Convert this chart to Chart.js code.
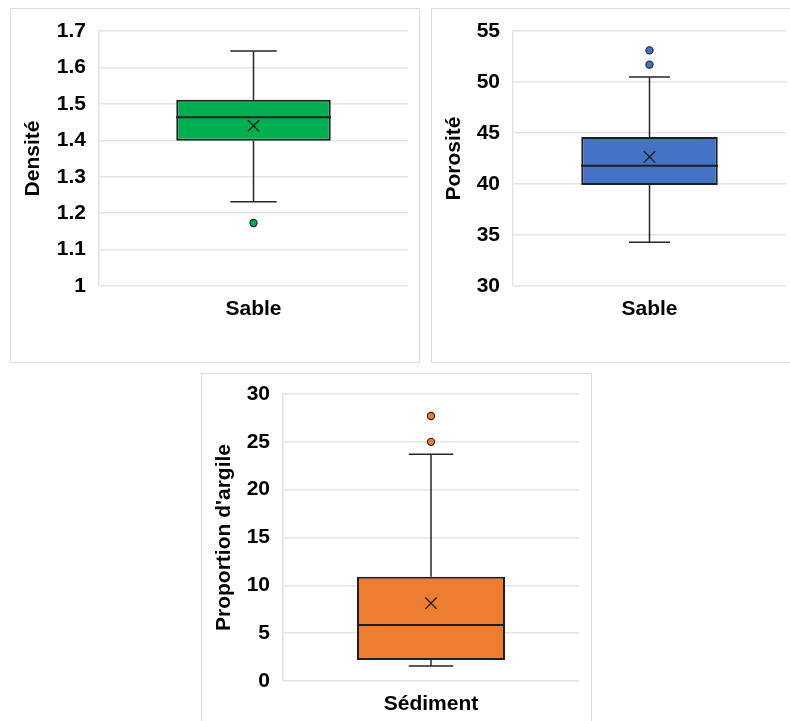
<!DOCTYPE html>
<html lang="fr">
<head>
<meta charset="utf-8">
<title>Boîtes à moustaches – Densité, Porosité, Proportion d'argile</title>
<script src="https://cdn.jsdelivr.net/npm/chart.js@4"></script>
<style>
  html, body { margin: 0; padding: 0; background: #ffffff; overflow: hidden; }
  body { width: 790px; height: 721px; position: relative; }
  .panel { position: absolute; border: 1px solid #dcdcdc; background: #fff; box-sizing: border-box; }
  .panel canvas { position: absolute; left: 0; top: 0; }
</style>
</head>
<body>
<div class="panel" id="p1" style="left:10px; top:8px; width:410px; height:355px;"><canvas id="c1" width="408" height="353"></canvas></div>
<div class="panel" id="p2" style="left:431px; top:8px; width:367px; height:355px;"><canvas id="c2" width="365" height="353"></canvas></div>
<div class="panel" id="p3" style="left:201px; top:373px; width:391px; height:360px;"><canvas id="c3" width="389" height="354"></canvas></div>

<script>
// Five-number summaries: [min whisker, Q1, median, Q3, max whisker]
const densiteCategories = ['Sable'];
const densiteBox = [1.231, 1.399, 1.463, 1.511, 1.645];
const densiteMean = [1.44];
const densiteOutliers = [1.173];

const porositeCategories = ['Sable'];
const porositeBox = [34.3, 39.9, 41.8, 44.6, 50.5];
const porositeMean = [42.65];
const porositeOutliers = [51.7, 53.1];

const argileCategories = ['Sédiment'];
const argileBox = [1.57, 2.2, 5.86, 10.9, 23.7];
const argileMean = [8.13];
const argileOutliers = [25.0, 27.7];

// Y-axis ranges (min, max, step)
const densiteAxis = [1, 1.7, 0.1];
const porositeAxis = [30, 55, 5];
const argileAxis = [0, 30, 5];

const FONT = "'Liberation Sans', Arial, Helvetica, sans-serif";
const FONT_SIZE = 21;
const INK = '#1f1f1f';
const GRID = '#e4e4e4';

// Whiskers, caps and median line drawn around the floating bar (IQR box)
const boxPlotPlugin = {
  id: 'boxPlotExtras',
  beforeDatasetsDraw(chart) {
    const stats = chart.options.plugins.boxPlotExtras.stats;
    const bar = chart.getDatasetMeta(0).data[0];
    if (!bar) return;
    const y = chart.scales.y;
    const ctx = chart.ctx;
    const x = bar.x;
    const capHalf = bar.width * 0.15;
    const pMin = y.getPixelForValue(stats[0]);
    const pQ1 = y.getPixelForValue(stats[1]);
    const pQ3 = y.getPixelForValue(stats[3]);
    const pMax = y.getPixelForValue(stats[4]);
    ctx.save();
    ctx.strokeStyle = '#262626';
    ctx.lineWidth = 1.5;
    ctx.beginPath();
    ctx.moveTo(x, pQ3); ctx.lineTo(x, pMax);
    ctx.moveTo(x - capHalf, pMax); ctx.lineTo(x + capHalf, pMax);
    ctx.moveTo(x, pQ1); ctx.lineTo(x, pMin);
    ctx.moveTo(x - capHalf, pMin); ctx.lineTo(x + capHalf, pMin);
    ctx.stroke();
    ctx.restore();
  },
  afterDatasetDraw(chart, args) {
    if (args.index !== 0) return;
    const stats = chart.options.plugins.boxPlotExtras.stats;
    const bar = chart.getDatasetMeta(0).data[0];
    if (!bar) return;
    const ctx = chart.ctx;
    const pMed = chart.scales.y.getPixelForValue(stats[2]);
    ctx.save();
    ctx.strokeStyle = INK;
    ctx.lineWidth = 2;
    ctx.beginPath();
    ctx.moveTo(bar.x - bar.width / 2, pMed);
    ctx.lineTo(bar.x + bar.width / 2, pMed);
    ctx.stroke();
    ctx.restore();
  }
};

function makeBoxChart(canvasId, cfg) {
  const cat = cfg.categories[0];
  return new Chart(document.getElementById(canvasId), {
    type: 'bar',
    data: {
      labels: cfg.categories,
      datasets: [
        {
          type: 'bar',
          data: [[cfg.box[1], cfg.box[3]]],
          backgroundColor: cfg.color,
          borderColor: INK,
          borderWidth: 2,
          borderSkipped: false,
          barPercentage: 0.5,
          categoryPercentage: 1.0,
          order: 3
        },
        {
          type: 'line',
          data: cfg.mean.map(v => ({ x: cat, y: v })),
          showLine: false,
          pointStyle: 'crossRot',
          pointRadius: 8,
          borderColor: INK,
          borderWidth: 1.4,
          order: 1
        },
        {
          type: 'line',
          data: cfg.outliers.map(v => ({ x: cat, y: v })),
          showLine: false,
          pointStyle: 'circle',
          pointRadius: 3.6,
          backgroundColor: cfg.color,
          borderColor: INK,
          borderWidth: 1.1,
          order: 2
        }
      ]
    },
    options: {
      responsive: false,
      animation: false,
      devicePixelRatio: 1,
      layout: { padding: { top: cfg.padTop, right: cfg.padRight, bottom: 0, left: 0 } },
      plugins: {
        legend: { display: false },
        tooltip: { enabled: false },
        boxPlotExtras: { stats: cfg.box }
      },
      scales: {
        x: {
          grid: { display: false, drawTicks: false },
          border: { display: false },
          ticks: { color: '#000', padding: 11, font: { family: FONT, size: FONT_SIZE, weight: 'bold' } },
          afterFit(scale) { scale.height = cfg.xHeight; }
        },
        y: {
          min: cfg.axis[0],
          max: cfg.axis[1],
          grid: { color: GRID, lineWidth: 1.5, drawTicks: false },
          border: { display: true, color: GRID, width: 1.5 },
          ticks: {
            stepSize: cfg.axis[2],
            color: '#000',
            padding: 13,
            font: { family: FONT, size: FONT_SIZE, weight: 'bold' },
            callback: v => String(Number(v.toFixed(2)))
          },
          title: {
            display: true,
            text: cfg.title,
            color: '#000',
            padding: { top: 10, bottom: 4 },
            font: { family: FONT, size: FONT_SIZE, weight: 'bold' }
          },
          afterFit(scale) {
            // fixed axis width; the layout padding already leaves room for the end labels
            scale.width = cfg.yWidth;
            scale.paddingTop = 0;
            scale.paddingBottom = 0;
          }
        }
      }
    },
    plugins: [boxPlotPlugin]
  });
}

makeBoxChart('c1', {
  categories: densiteCategories, box: densiteBox, mean: densiteMean, outliers: densiteOutliers,
  axis: densiteAxis, color: '#00B050', title: 'Densité',
  yWidth: 88, xHeight: 76, padTop: 22, padRight: 11
});

makeBoxChart('c2', {
  categories: porositeCategories, box: porositeBox, mean: porositeMean, outliers: porositeOutliers,
  axis: porositeAxis, color: '#4472C4', title: 'Porosité',
  yWidth: 81, xHeight: 76, padTop: 22, padRight: 11
});

makeBoxChart('c3', {
  categories: argileCategories, box: argileBox, mean: argileMean, outliers: argileOutliers,
  axis: argileAxis, color: '#ED7D31', title: "Proportion d'argile",
  yWidth: 81, xHeight: 47, padTop: 20, padRight: 12
});
</script>
</body>
</html>
